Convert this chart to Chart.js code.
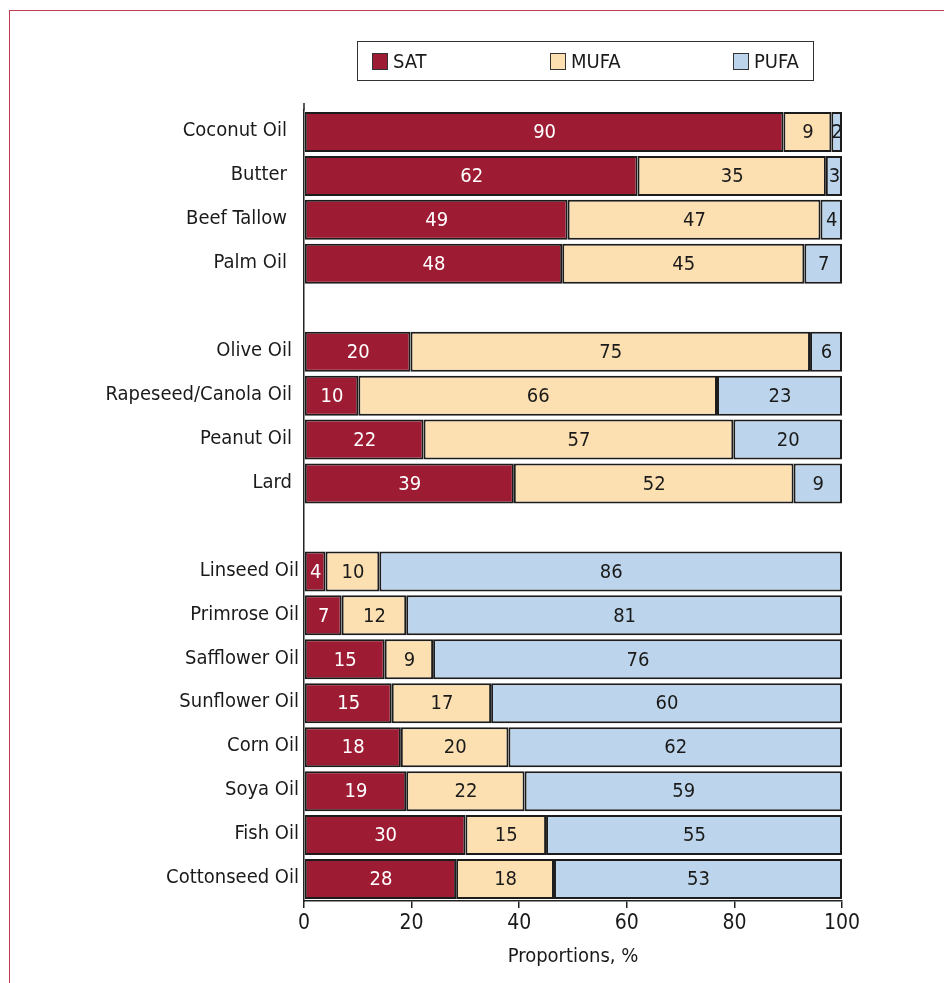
<!DOCTYPE html>
<html>
<head>
<meta charset="utf-8">
<script src="https://cdn.jsdelivr.net/npm/chart.js@4"></script>
<style>
    body { margin: 0; background: #fff; }
    .frame { position: absolute; left: 9px; top: 10px; right: 0; bottom: 0; border-left: 1.5px solid #c23b52; border-top: 1.5px solid #c23b52; }
    .legend { position: absolute; left: 357px; top: 41px; width: 455px; height: 38px; border: 1.5px solid #333; }
    .legend span { position: absolute; top: 7px; font: 20px 'Liberation Sans Narrow', 'DejaVu Sans Condensed', sans-serif; color: #1a1a1a; }
    .legend i { display: inline-block; width: 14px; height: 15px; border: 1.5px solid #333; vertical-align: -2px; margin-right: 5px; }
    canvas { position: absolute; left: 0; top: 0; }
</style>
</head>
<body>
<div class="frame"></div>
<canvas id="myChart" width="944" height="983"></canvas>
<div class="legend">
    <span style="left: 14px"><i style="background: #9e1c33"></i>SAT</span>
    <span style="left: 192px"><i style="background: #fde0b1"></i>MUFA</span>
    <span style="left: 375px"><i style="background: #bdd5ec"></i>PUFA</span>
</div>
<script>
    // empty strings are the gaps between the three groups
    const oils = ['Coconut Oil', 'Butter', 'Beef Tallow', 'Palm Oil', '',
        'Olive Oil', 'Rapeseed/Canola Oil', 'Peanut Oil', 'Lard', '',
        'Linseed Oil', 'Primrose Oil', 'Safflower Oil', 'Sunflower Oil',
        'Corn Oil', 'Soya Oil', 'Fish Oil', 'Cottonseed Oil'];
    const sat = [90, 62, 49, 48, null, 20, 10, 22, 39, null, 4, 7, 15, 15, 18, 19, 30, 28];
    const mufa = [9, 35, 47, 45, null, 75, 66, 57, 52, null, 10, 12, 9, 17, 20, 22, 15, 18];
    const pufa = [2, 3, 4, 7, null, 6, 23, 20, 9, null, 86, 81, 76, 60, 62, 59, 55, 53];
    const xTicks = [0, 20, 40, 60, 80, 100];

    // bars are drawn as shares of 100%, labels keep the printed values
    function share(values) {
        return values.map((v, i) => {
            if (v === null) return null;
            const total = sat[i] + mufa[i] + pufa[i];
            return v / total * 100;
        });
    }

    const font = "'Liberation Sans Narrow', 'DejaVu Sans Condensed', sans-serif";
    const ink = '#1a1a1a';
    // distance of the category labels from the axis, per group
    const labelGap = [17, 12, 5];

    const barLabels = {
        id: 'barLabels',
        afterDatasetsDraw(chart) {
            const ctx = chart.ctx;
            const raw = [sat, mufa, pufa];
            ctx.save();
            ctx.font = '20px ' + font;
            ctx.textAlign = 'center';
            ctx.textBaseline = 'middle';
            chart.data.datasets.forEach((ds, d) => {
                chart.getDatasetMeta(d).data.forEach((bar, i) => {
                    if (raw[d][i] === null) return;
                    const left = Math.min(bar.x, bar.base);
                    const right = Math.max(bar.x, bar.base);
                    ctx.fillStyle = d === 0 ? '#fff' : ink;
                    ctx.fillText(raw[d][i], (left + right) / 2 + 0.5, bar.y + 1);
                });
            });

            const y = chart.scales.y;
            const area = chart.chartArea;
            ctx.textAlign = 'right';
            ctx.fillStyle = ink;
            let group = 0;
            oils.forEach((name, i) => {
                if (name === '') { group++; return; }
                ctx.fillText(name, area.left - labelGap[group], y.getPixelForValue(i) - 1);
            });

            ctx.strokeStyle = '#222';
            ctx.lineWidth = 1.5;
            ctx.beginPath();
            ctx.moveTo(area.left, area.top - 7);
            ctx.lineTo(area.left, area.top);
            ctx.stroke();
            ctx.restore();
        }
    };

    const ctx = document.getElementById('myChart').getContext('2d');
    new Chart(ctx, {
        type: 'bar',
        data: {
            labels: oils,
            datasets: [
                { label: 'SAT', data: share(sat), backgroundColor: '#9e1c33' },
                { label: 'MUFA', data: share(mufa), backgroundColor: '#fde0b1' },
                { label: 'PUFA', data: share(pufa), backgroundColor: '#bdd5ec' }
            ]
        },
        options: {
            responsive: false,
            animation: false,
            indexAxis: 'y',
            layout: { padding: { top: 110, right: 102, left: 0, bottom: 0 } },
            datasets: {
                bar: {
                    barPercentage: 0.91,
                    categoryPercentage: 1,
                    borderColor: '#1c1c1c',
                    borderWidth: 2,
                    borderSkipped: false
                }
            },
            plugins: {
                legend: { display: false },
                tooltip: { enabled: false }
            },
            scales: {
                x: {
                    stacked: true,
                    min: 0,
                    max: 100,
                    afterFit(scale) { scale.height = 82; },
                    afterBuildTicks(scale) { scale.ticks = xTicks.map(v => ({ value: v })); },
                    grid: { drawOnChartArea: false, drawTicks: true, tickLength: 7, color: '#222', lineWidth: 1.5 },
                    border: { display: true, color: '#222', width: 1.5 },
                    ticks: { font: { family: font, size: 21 }, color: ink, padding: 3 },
                    title: {
                        display: true,
                        text: 'Proportions, %',
                        font: { family: font, size: 20 },
                        color: ink,
                        padding: { top: 4, bottom: 14 }
                    }
                },
                y: {
                    stacked: true,
                    afterFit(scale) { scale.width = 304; },
                    grid: { display: false },
                    border: { display: true, color: '#222', width: 1.5 },
                    ticks: { display: false }
                }
            }
        },
        plugins: [barLabels]
    });
</script>
</body>
</html>
